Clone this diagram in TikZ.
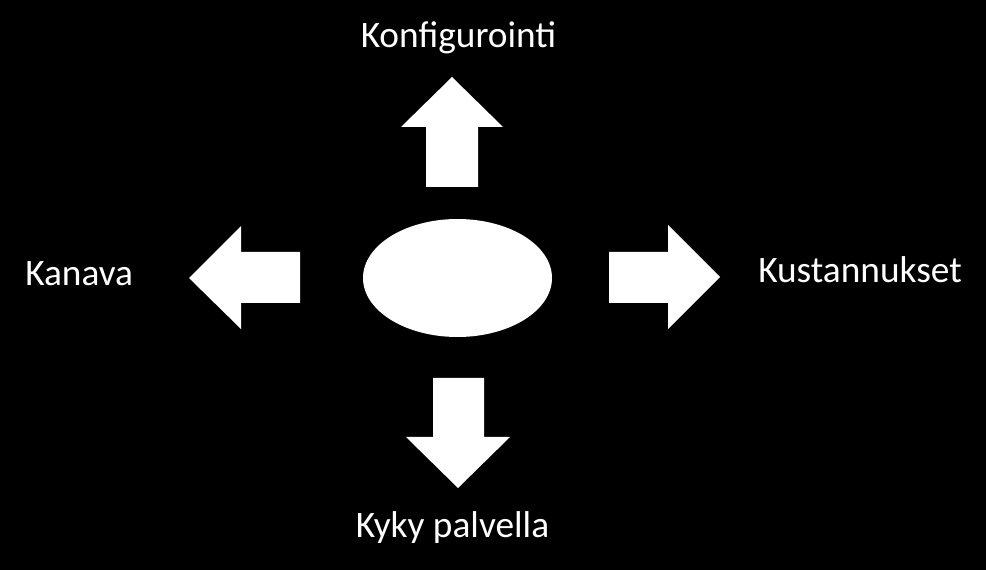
\documentclass[tikz,border=0pt]{standalone}
\usepackage{fontspec}
\setmainfont{Carlito}
\usetikzlibrary{shapes.geometric}
\begin{document}
\begin{tikzpicture}[x=0.75pt,y=-0.75pt,
  lbl/.style={text=white,inner sep=0pt,font=\fontsize{28}{33}\selectfont},
  blockarrow/.style={fill=white,draw=none}]
\fill[black] (0,0) rectangle (986,570);
\useasboundingbox (0,0) rectangle (986,570);
% centre ellipse
\node[ellipse,fill=white,draw=none,minimum width=189*0.75pt,minimum height=118*0.75pt,inner sep=0pt] (core) at (457.5,278) {};
% up arrow
\fill[blockarrow] (426,187) -- (426,127) -- (401,127) -- (452,77) -- (503,127) -- (478,127) -- (478,187) -- cycle;
% down arrow
\fill[blockarrow] (433,378) -- (433,437) -- (406,437) -- (458,488) -- (510,437) -- (484,437) -- (484,378) -- cycle;
% left arrow
\fill[blockarrow] (300,252) -- (241,252) -- (241,226) -- (189,278) -- (241,329) -- (241,303) -- (300,303) -- cycle;
% right arrow
\fill[blockarrow] (609,252) -- (668,252) -- (668,225) -- (720,277) -- (668,329) -- (668,303) -- (609,303) -- cycle;
% labels
\node[lbl,anchor=base] (konf) at (458.5,48) {Konfigurointi};
\node[lbl,anchor=base west] (kust) at (758,283) {Kustannukset};
\node[lbl,anchor=base west] (kana) at (25,286) {Kanava};
\node[lbl,anchor=base] (kyky) at (452.5,537) {Kyky palvella};
\end{tikzpicture}
\end{document}
